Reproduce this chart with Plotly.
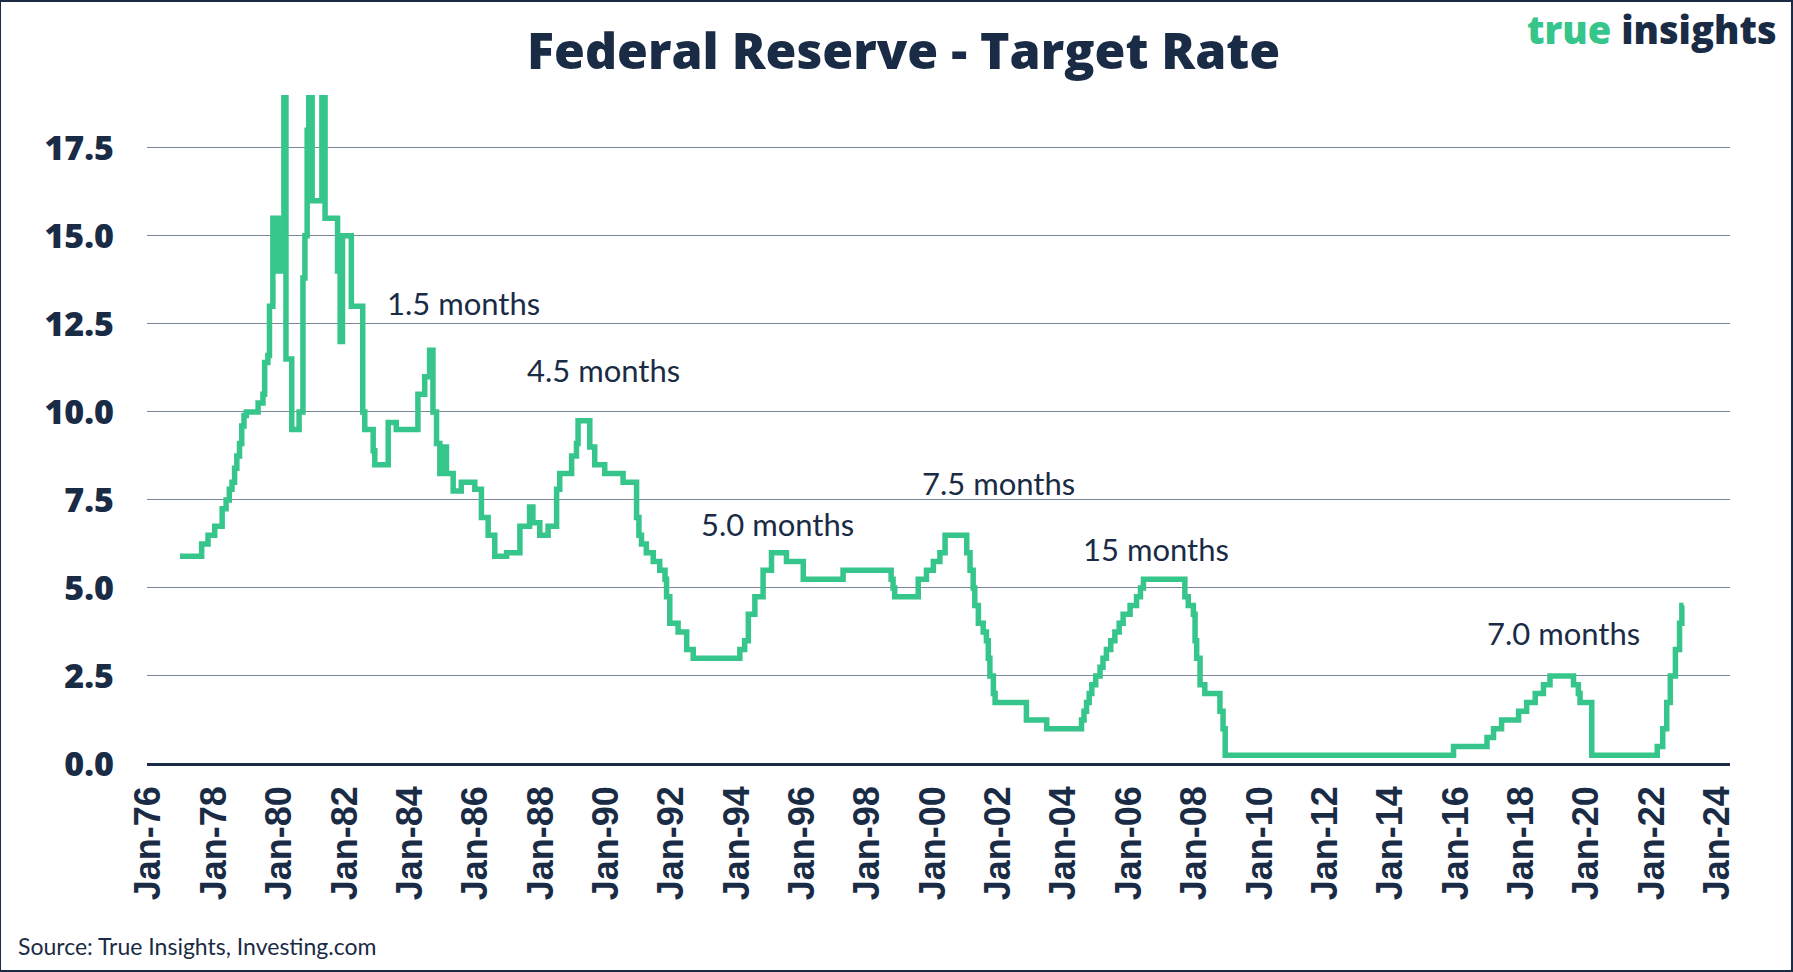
import plotly.graph_objects as go

# ---- data (step changes of the target rate) ----
change_dates = [
    "1976-12-15", "1977-08-15", "1977-10-25", "1978-01-08", "1978-04-01", "1978-05-15",
    "1978-06-20", "1978-07-20", "1978-08-18", "1978-09-12", "1978-10-12", "1978-11-06",
    "1978-12-01", "1978-12-28", "1979-05-08", "1979-07-01", "1979-07-20", "1979-08-25",
    "1979-09-12", "1979-10-20", "1979-11-10", "1979-12-01", "1979-12-20", "1980-01-10",
    "1980-01-30", "1980-02-20", "1980-03-14", "1980-05-18", "1980-08-08", "1980-09-20",
    "1980-10-12", "1980-11-06", "1980-11-24", "1981-01-01", "1981-04-20", "1981-05-25",
    "1981-10-12", "1981-11-10", "1981-12-06", "1982-03-15", "1982-07-20", "1982-08-12",
    "1982-11-14", "1982-12-02", "1983-05-01", "1983-07-30", "1984-03-28", "1984-06-12",
    "1984-08-06", "1984-09-12", "1984-10-22", "1984-11-28", "1985-01-05", "1985-02-10",
    "1985-04-26", "1985-07-26", "1985-12-24", "1986-03-08", "1986-05-22", "1986-08-04",
    "1986-12-14", "1987-05-12", "1987-08-28", "1987-10-04", "1987-12-20", "1988-03-22",
    "1988-06-25", "1988-07-30", "1988-12-10", "1989-02-02", "1989-02-20", "1989-07-01",
    "1989-08-25", "1989-12-15", "1990-07-08", "1990-12-06", "1991-01-01", "1991-01-30",
    "1991-03-25", "1991-06-10", "1991-08-22", "1991-10-20", "1991-11-06", "1991-12-12",
    "1992-03-14", "1992-06-18", "1992-08-30", "1994-02-02", "1994-03-28", "1994-05-08",
    "1994-07-20", "1994-10-20", "1995-01-22", "1995-07-08", "1996-01-12", "1997-04-01",
    "1998-09-20", "1998-10-12", "1998-10-30", "1999-07-20", "1999-10-20", "2000-01-05",
    "2000-03-18", "2000-05-15", "2001-01-12", "2001-02-18", "2001-03-25", "2001-04-12",
    "2001-05-22", "2001-07-15", "2001-08-20", "2001-09-10", "2001-09-28", "2001-11-06",
    "2001-11-25", "2002-11-10", "2003-06-25", "2004-07-18", "2004-08-15", "2004-09-12",
    "2004-10-12", "2004-11-10", "2004-12-24", "2005-02-10", "2005-03-15", "2005-04-22",
    "2005-06-10", "2005-07-26", "2005-09-12", "2005-10-26", "2005-12-02", "2006-01-12",
    "2006-03-25", "2006-05-08", "2006-06-10", "2007-09-16", "2007-10-24", "2007-12-20",
    "2008-01-08", "2008-01-26", "2008-03-04", "2008-04-26", "2008-10-12", "2008-11-16",
    "2008-12-10", "2015-12-06", "2016-12-14", "2017-02-25", "2017-05-26", "2017-12-02",
    "2018-03-02", "2018-06-06", "2018-09-06", "2018-11-18", "2019-08-08", "2019-10-01",
    "2019-10-20", "2020-02-28", "2022-03-01", "2022-05-01", "2022-06-15", "2022-07-25",
    "2022-09-20", "2022-11-05", "2022-12-01", "2022-12-20",
]
target_rate = [
    5.9, 6.25, 6.5, 6.75, 7.25, 7.5,
    7.8, 8.0, 8.4, 8.75, 9.1, 9.6,
    9.9, 10.0, 10.25, 10.5, 11.4, 11.6,
    13.0, 15.5, 14.0, 15.5, 14.0, 15.0,
    14.0, 20.0, 11.5, 9.5, 10.0, 13.8,
    15.0, 18.0, 20.0, 16.0, 20.0, 15.5,
    14.0, 12.0, 15.0, 13.0, 10.0, 9.5,
    8.9, 8.5, 9.7, 9.5, 10.5, 11.0,
    11.75, 10.0, 9.1, 8.25, 9.0, 8.25,
    7.75, 8.0, 7.8, 7.0, 6.5, 5.9,
    6.0, 6.75, 7.3, 6.85, 6.5, 6.75,
    7.8, 8.25, 8.75, 9.1, 9.75, 9.0,
    8.5, 8.25, 8.0, 7.0, 6.5, 6.25,
    6.0, 5.75, 5.5, 5.25, 4.75, 4.0,
    3.75, 3.25, 3.0, 3.25, 3.5, 4.25,
    4.75, 5.5, 6.0, 5.75, 5.25, 5.5,
    5.25, 5.0, 4.75, 5.25, 5.5, 5.75,
    6.0, 6.5, 6.0, 5.5, 5.0, 4.5,
    4.0, 3.75, 3.5, 3.0, 2.5, 2.0,
    1.75, 1.25, 1.0, 1.25, 1.5, 1.75,
    2.0, 2.25, 2.5, 2.75, 3.0, 3.25,
    3.5, 3.75, 4.0, 4.25, 4.25, 4.5,
    4.75, 5.0, 5.25, 4.75, 4.5, 4.25,
    3.5, 3.0, 2.25, 2.0, 1.5, 1.0,
    0.25, 0.5, 0.75, 1.0, 1.25, 1.5,
    1.75, 2.0, 2.25, 2.5, 2.25, 2.0,
    1.75, 0.25, 0.5, 1.0, 1.75, 2.5,
    3.25, 4.0, 4.5, 4.5,
]

# annotations: label, date, rate level
note_labels = ["1.5 months", "4.5 months", "5.0 months", "7.5 months", "15 months", "7.0 months"]
note_dates = ["1985-08-20", "1989-12-05", "1995-04-01", "2002-01-05", "2006-11-01", "2019-04-15"]
note_levels = [13.1, 11.2, 6.82, 7.97, 6.12, 3.72]

y_ticks = [0.0, 2.5, 5.0, 7.5, 10.0, 12.5, 15.0, 17.5]

NAVY = "#1a2b45"
GREEN = "#36c58a"
GRID = "#7c8797"

fig = go.Figure()
fig.add_trace(go.Scatter(
    x=change_dates, y=target_rate, mode="lines",
    line=dict(color=GREEN, width=5.5, shape="hv"),
    hoverinfo="skip", showlegend=False,
))

for lab, d, v in zip(note_labels, note_dates, note_levels):
    fig.add_annotation(x=d, y=v, xref="x", yref="y", text=lab, showarrow=False,
                       font=dict(family="Lato", size=31, color=NAVY),
                       xanchor="center", yanchor="middle")

fig.add_annotation(xref="paper", yref="paper", x=-0.083, y=-0.2715, text="Source: True Insights, Investing.com",
                   showarrow=False, xanchor="left", yanchor="middle",
                   font=dict(family="Lato", size=23, color=NAVY))

fig.add_annotation(xref="paper", yref="paper", x=1.031, y=(764.3 - 29) / 669.3,
                   text="<span style='color:%s'>true</span> insights" % GREEN,
                   showarrow=False, xanchor="right", yanchor="middle",
                   font=dict(family="Open Sans", size=38, color=NAVY, weight=800))

fig.update_layout(
    width=1793, height=972,
    margin=dict(l=147, r=63, t=95, b=208),
    paper_bgcolor="white", plot_bgcolor="white",
    title=dict(text="Federal Reserve - Target Rate", x=0.504, y=1 - 51 / 972,
               xref="container", yref="container", xanchor="center", yanchor="middle",
               font=dict(family="Open Sans", size=50, color=NAVY, weight=800)),
    xaxis=dict(type="date", range=["1975-12-13", "2024-05-22"],
               tick0="1976-01-01", dtick="M24", tickformat="%b-%y", tickangle=-90,
               showgrid=False, zeroline=False, showline=False, ticks="", ticklabelstandoff=14,
               tickfont=dict(family="Liberation Sans", size=36, color=NAVY, weight="bold")),
    yaxis=dict(range=[0, 19.0], tickvals=y_ticks, tickformat=".1f",
               showgrid=True, gridcolor=GRID, gridwidth=1.2,
               zeroline=True, zerolinecolor=NAVY, zerolinewidth=2.5,
               showline=False, ticks="", ticklabelstandoff=32,
               tickfont=dict(family="Open Sans", size=34, color=NAVY, weight=800)),
    shapes=[dict(type="rect", xref="paper", yref="paper",
                 x0=-147 / 1583, x1=1 + 62 / 1583, y0=-207 / 669, y1=1 + 94 / 669,
                 line=dict(color=NAVY, width=2), fillcolor="rgba(0,0,0,0)", layer="below")],
)

fig.write_html("out.html", config={"displayModeBar": False},
               post_script="document.body.style.margin='0';document.body.style.overflow='hidden';")
